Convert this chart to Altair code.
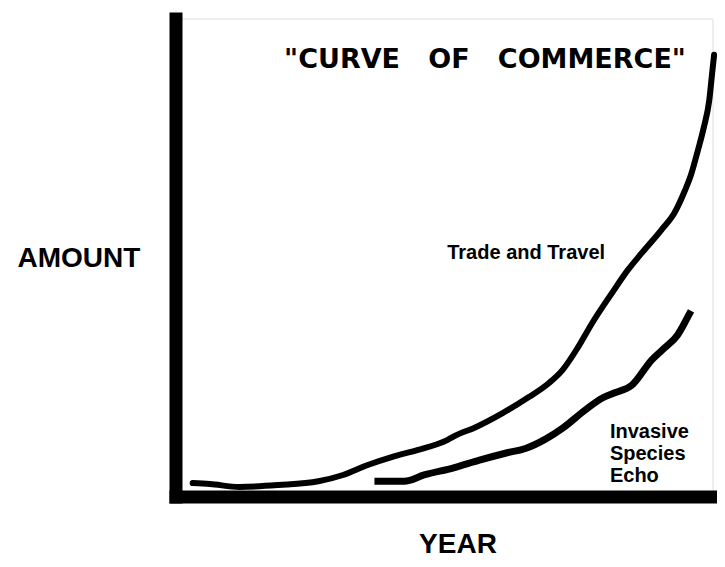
import altair as alt
import pandas as pd

# Trade and Travel curve (year index 0-100, amount 0-100)
trade_year = [3.2, 6.4, 11.9, 19.2, 26.6, 31.2, 35.8, 40.4, 45.0, 50.6, 52.4, 55.5,
              61.0, 65.8, 69.5, 72.1, 75.0, 77.6, 81.3, 84.25, 86.8, 90.5, 92.9,
              94.75, 96.0, 97.3, 98.4, 99.4, 99.9, 100.3]
trade_amount = [2.8, 2.6, 2.0, 2.4, 3.2, 4.5, 6.6, 8.3, 9.7, 11.8, 12.9, 14.3,
                17.5, 20.8, 23.7, 26.5, 31.3, 36.3, 42.6, 47.4, 50.9, 55.8, 59.3,
                63.7, 67.3, 72.5, 77.3, 82.9, 88.2, 92.4]

# Invasive Species Echo curve
invasive_year = [37.7, 42.6, 46.3, 51.8, 56.6, 61.6, 65.3, 68.9, 72.1, 76.3, 79.5,
                 81.8, 85.0, 88.7, 91.1, 93.5, 94.8, 95.7]
invasive_amount = [3.2, 3.2, 4.5, 6.0, 7.6, 9.1, 10.1, 12.0, 14.3, 18.1, 20.6,
                   21.7, 23.3, 28.6, 31.1, 33.8, 36.3, 38.2]

# Annotations
label_text = ["Trade and Travel", "Invasive", "Species", "Echo"]
label_year = [50.6, 80.9, 80.9, 80.9]
label_amount = [49.7, 12.2, 7.6, 3.0]

trade_df = pd.DataFrame({"x": trade_year, "y": trade_amount})
inv_df = pd.DataFrame({"x": invasive_year, "y": invasive_amount})
lab_df = pd.DataFrame({"x": label_year, "y": label_amount, "t": label_text})

LABEL_FONT = "Liberation Sans"

x_axis = alt.Axis(domain=True, domainWidth=13, domainColor="black", domainCap="square",
                  ticks=False, labels=False, grid=False, title="YEAR",
                  titleFont=LABEL_FONT, titleFontSize=28, titleFontWeight="bold",
                  titleColor="black", titleAlign="center", titleBaseline="alphabetic",
                  titleX=282, titleY=56)
y_axis = alt.Axis(domain=True, domainWidth=13, domainColor="black", domainCap="square",
                  ticks=False, labels=False, grid=False, title="AMOUNT",
                  titleFont=LABEL_FONT, titleFontSize=28, titleFontWeight="bold",
                  titleColor="black", titleAngle=0, titleAlign="left",
                  titleBaseline="alphabetic", titleX=-158.5, titleY=248)

xs = alt.Scale(domain=[0, 100], nice=False, zero=False)
ys = alt.Scale(domain=[0, 100], nice=False, zero=False)

trade = alt.Chart(trade_df).mark_line(
    color="black", strokeWidth=6, interpolate="monotone", strokeCap="round"
).encode(
    x=alt.X("x:Q", scale=xs, axis=x_axis),
    y=alt.Y("y:Q", scale=ys, axis=y_axis),
)

invasive = alt.Chart(inv_df).mark_line(
    color="black", strokeWidth=7, interpolate="monotone", strokeCap="square"
).encode(
    x=alt.X("x:Q", scale=xs, axis=x_axis),
    y=alt.Y("y:Q", scale=ys, axis=y_axis),
)

labels = alt.Chart(lab_df).mark_text(
    font=LABEL_FONT, fontSize=20, fontWeight="bold", color="black",
    align="left", baseline="alphabetic"
).encode(
    x=alt.X("x:Q", scale=xs, axis=x_axis),
    y=alt.Y("y:Q", scale=ys, axis=y_axis),
    text="t:N",
)

NB = "\u00a0"
title_text = '"CURVE' + NB * 3 + "OF" + NB * 3 + 'COMMERCE"'

chart = alt.layer(trade, invasive, labels).properties(
    width=537,
    height=478,
    autosize=alt.AutoSizeParams(type="none"),
    padding={"left": 167.5, "top": 10.5, "right": 4.5, "bottom": 62.5},
    title=alt.TitleParams(
        text=title_text, font="Comic Sans MS, DejaVu Sans", fontSize=27,
        fontWeight="bold", color="black", anchor="middle", dx=41, dy=59,
    ),
).configure_view(strokeWidth=0).configure(background="white")

chart.save("out.html", embed_options={"renderer": "svg", "actions": False})
